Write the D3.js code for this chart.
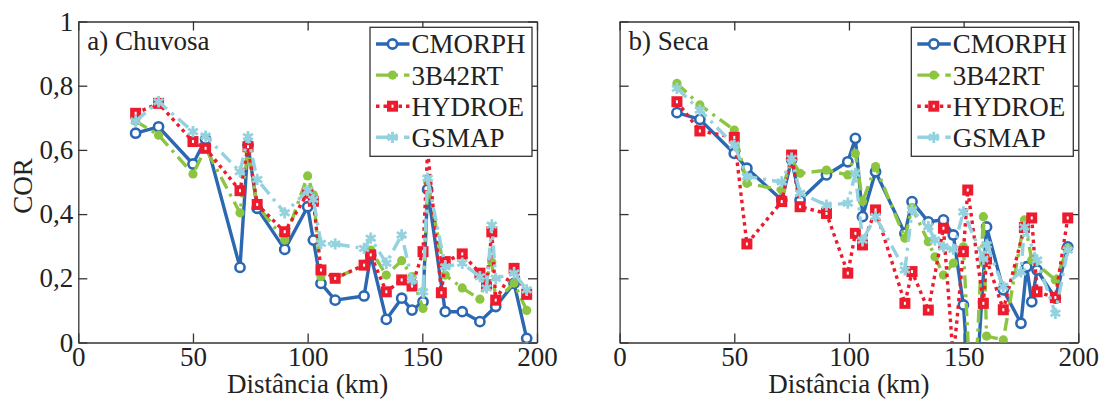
<!DOCTYPE html>
<html>
<head>
<meta charset="utf-8">
<script src="https://cdn.jsdelivr.net/npm/d3@7"></script>
<style>
  body { margin: 0; background: #fff; }
  svg text { font-family: "Liberation Serif", "DejaVu Serif", serif !important; }
</style>
</head>
<body>
<div id="chart"></div>
<script>
// ---- data ----
const seriesNames = ["CMORPH", "3B42RT", "HYDROE", "GSMAP"];
const xTicks = [0, 50, 100, 150, 200];
const yTicks = [0, 0.2, 0.4, 0.6, 0.8, 1];
const panelTitles = ["a) Chuvosa", "b) Seca"];

// a) Chuvosa
const distA = [25, 35, 50, 55.5, 70.5, 74, 78, 90, 100, 102.5, 105.8, 112, 124.6, 127.5, 134.3, 141, 145.5, 150.3, 152.3, 158.3, 160, 167.4, 175.1, 178, 180.3, 182, 190, 195.5];
const cmorphA = [0.652, 0.672, 0.556, 0.633, 0.234, 0.615, 0.418, 0.29, 0.423, 0.319, 0.184, 0.132, 0.145, 0.272, 0.072, 0.138, 0.101, 0.127, 0.477, null, 0.096, 0.096, 0.065, null, null, 0.112, 0.184, 0.013];
const b42A = [0.69, 0.646, 0.525, 0.605, 0.404, 0.6, 0.428, 0.319, 0.519, 0.46, 0.205, 0.2, 0.241, 0.288, 0.21, 0.255, 0.205, 0.106, 0.501, null, 0.21, 0.17, 0.135, null, 0.25, 0.13, 0.185, 0.1];
const hydroeA = [0.714, 0.745, 0.626, 0.605, 0.473, 0.61, 0.43, 0.345, 0.465, 0.44, 0.226, 0.2, 0.241, 0.273, 0.158, 0.195, 0.176, 0.283, 0.6, 0.155, 0.252, 0.276, 0.216, 0.18, 0.345, 0.132, 0.231, 0.15];
const gsmapA = [0.69, 0.75, 0.657, 0.643, 0.532, 0.641, 0.508, 0.404, 0.473, 0.446, 0.309, 0.307, 0.293, 0.325, 0.247, 0.335, 0.195, 0.158, 0.512, null, 0.236, 0.247, 0.205, 0.17, 0.366, 0.2, 0.216, 0.164];

// b) Seca
const distB = [25, 35, 50, 55.5, 70.7, 75, 78.7, 90.2, 99.5, 102.8, 105.9, 111.6, 124.4, 127.5, 134.6, 137.5, 141.2, 145.5, 149.9, 151.8, 154, 158.6, 160, 167.3, 175, 176.5, 177.5, 179.7, 182, 190, 195.4];
const cmorphB = [0.716, 0.695, 0.589, 0.543, 0.444, 0.57, 0.444, 0.522, 0.563, 0.636, 0.392, 0.532, 0.34, 0.439, 0.376, null, 0.382, 0.335, 0.117, null, -0.3, null, 0.36, 0.164, 0.06, null, 0.236, 0.127, 0.226, 0.138, 0.298];
const b42B = [0.807, 0.74, 0.662, 0.496, 0.475, 0.57, 0.527, 0.537, 0.522, 0.589, 0.439, 0.548, 0.325, 0.42, 0.314, 0.267, 0.21, 0.247, 0.298, null, -0.3, 0.392, 0.02, 0.008, null, 0.382, null, 0.257, null, 0.195, 0.293];
const hydroeB = [0.75, 0.659, 0.639, 0.307, 0.439, 0.584, 0.423, 0.402, 0.216, 0.34, 0.304, 0.413, 0.122, 0.221, 0.101, null, 0.356, -0.05, 0.283, 0.475, null, 0.122, 0.26, 0.102, null, 0.358, null, 0.388, 0.158, 0.14, 0.388];
const gsmapB = [0.792, 0.724, 0.615, 0.517, 0.5, 0.574, 0.465, 0.428, 0.434, 0.527, 0.319, 0.392, 0.226, 0.413, 0.361, 0.319, 0.298, 0.29, 0.407, null, null, 0.26, 0.304, 0.174, 0.22, 0.36, null, null, 0.257, 0.091, 0.288];

// ---- styles ----
const styles = [
  { color: "#2c68b2", dash: null, marker: "circleOpen" },
  { color: "#8cc540", dash: "13,6,3,6", marker: "circleFilled" },
  { color: "#ec1c2e", dash: "3.5,4", marker: "square" },
  { color: "#93d2de", dash: "13,6,3,6", marker: "asterisk" }
];

const panels = [
  { left: 78.3, dist: distA, values: [cmorphA, b42A, hydroeA, gsmapA], yLabels: true },
  { left: 619.6, dist: distB, values: [cmorphB, b42B, hydroeB, gsmapB], yLabels: false }
];

const plotW = 458.7, plotTop = 21.5, plotBottom = 342.5;
const fontSize = 27;
const fontFam = "Liberation Serif, DejaVu Serif, serif";
const axisColor = "#333";

const svg = d3.select("#chart").append("svg")
  .attr("width", 1099)
  .attr("height", 400)
  .attr("font-family", fontFam);

const yFmt = d => (d === 0 || d === 1) ? String(d) : String(d).replace(".", ",");

function drawMarker(g, type, color, cx, cy) {
  if (type === "circleOpen") {
    g.append("circle").attr("cx", cx).attr("cy", cy).attr("r", 4.6)
      .attr("fill", "#fff").attr("stroke", color).attr("stroke-width", 2.6);
  } else if (type === "circleFilled") {
    g.append("circle").attr("cx", cx).attr("cy", cy).attr("r", 4.6)
      .attr("fill", color);
  } else if (type === "square") {
    g.append("rect").attr("x", cx - 5.5).attr("y", cy - 5.5)
      .attr("width", 11).attr("height", 11).attr("fill", color);
    g.append("rect").attr("x", cx - 1).attr("y", cy - 1.5)
      .attr("width", 2).attr("height", 3).attr("fill", "#fff");
  } else {
    g.append("path")
      .attr("d", d3.symbol(d3.symbolAsterisk, 90)())
      .attr("transform", `translate(${cx},${cy})`)
      .attr("fill", "none").attr("stroke", color).attr("stroke-width", 2.8);
  }
}

panels.forEach((p, pi) => {
  const x = d3.scaleLinear().domain([0, 200]).range([p.left, p.left + plotW]);
  const y = d3.scaleLinear().domain([0, 1]).range([plotBottom, plotTop]);
  const g = svg.append("g");

  const clipId = "clip" + pi;
  svg.append("clipPath").attr("id", clipId)
    .append("rect")
    .attr("x", p.left).attr("y", plotTop)
    .attr("width", plotW).attr("height", plotBottom - plotTop);

  // axes (ticks pointing inward, box on)
  const xb = g.append("g").attr("transform", `translate(0,${plotBottom})`)
    .call(d3.axisBottom(x).tickValues(xTicks).tickSizeInner(-9).tickSizeOuter(0).tickPadding(4));
  const xt = g.append("g").attr("transform", `translate(0,${plotTop})`)
    .call(d3.axisTop(x).tickValues(xTicks).tickSizeInner(-9).tickSizeOuter(0).tickFormat(""));
  const yl = g.append("g").attr("transform", `translate(${p.left},0)`)
    .call(d3.axisLeft(y).tickValues(yTicks).tickSizeInner(-9).tickSizeOuter(0).tickPadding(5)
      .tickFormat(p.yLabels ? yFmt : ""));
  const yr = g.append("g").attr("transform", `translate(${p.left + plotW},0)`)
    .call(d3.axisRight(y).tickValues(yTicks).tickSizeInner(-9).tickSizeOuter(0).tickFormat(""));

  [xb, xt, yl, yr].forEach(a => {
    a.attr("font-family", fontFam).attr("font-size", fontSize);
    a.selectAll("path, line").attr("stroke", axisColor).attr("stroke-width", 1.3);
    a.selectAll("text").attr("fill", "#222");
  });

  // x label
  g.append("text")
    .attr("x", p.left + plotW / 2).attr("y", 393)
    .attr("text-anchor", "middle")
    .attr("font-size", fontSize).attr("fill", "#222")
    .text("Distância (km)");

  // series
  const plot = g.append("g").attr("clip-path", `url(#${clipId})`);
  const line = d3.line().x(d => x(d[0])).y(d => y(d[1]));

  p.values.forEach((vals, si) => {
    const st = styles[si];
    const pts = p.dist.map((d, i) => [d, vals[i]]).filter(d => d[1] != null);
    plot.append("path")
      .datum(pts)
      .attr("d", line)
      .attr("fill", "none")
      .attr("stroke", st.color)
      .attr("stroke-width", 3.4)
      .attr("stroke-linejoin", "round")
      .attr("stroke-dasharray", st.dash);
    const mg = plot.append("g");
    pts.forEach(d => drawMarker(mg, st.marker, st.color, x(d[0]), y(d[1])));
  });

  // panel title
  g.append("text")
    .attr("x", p.left + 9).attr("y", 50)
    .attr("font-size", fontSize).attr("fill", "#222")
    .text(panelTitles[pi]);

  // legend
  const lx = p.left + plotW - 167, ly = 27.3, lw = 162, lh = 129;
  const lg = g.append("g");
  lg.append("rect").attr("x", lx).attr("y", ly).attr("width", lw).attr("height", lh)
    .attr("fill", "#fff").attr("stroke", axisColor).attr("stroke-width", 1.3);
  seriesNames.forEach((name, si) => {
    const st = styles[si];
    const cy = ly + 16.7 + si * 31.1;
    lg.append("line")
      .attr("x1", lx + 6).attr("x2", lx + 39.5)
      .attr("y1", cy).attr("y2", cy)
      .attr("stroke", st.color).attr("stroke-width", 3.4)
      .attr("stroke-dasharray", st.dash);
    drawMarker(lg, st.marker, st.color, lx + 22.5, cy);
    lg.append("text")
      .attr("x", lx + 41.5).attr("y", cy).attr("dy", "0.35em")
      .attr("font-size", fontSize).attr("fill", "#222")
      .text(name);
  });
});

// y label
svg.append("text")
  .attr("transform", "translate(32,186) rotate(-90)")
  .attr("text-anchor", "middle")
  .attr("font-size", fontSize).attr("fill", "#222")
  .text("COR");
</script>
</body>
</html>
